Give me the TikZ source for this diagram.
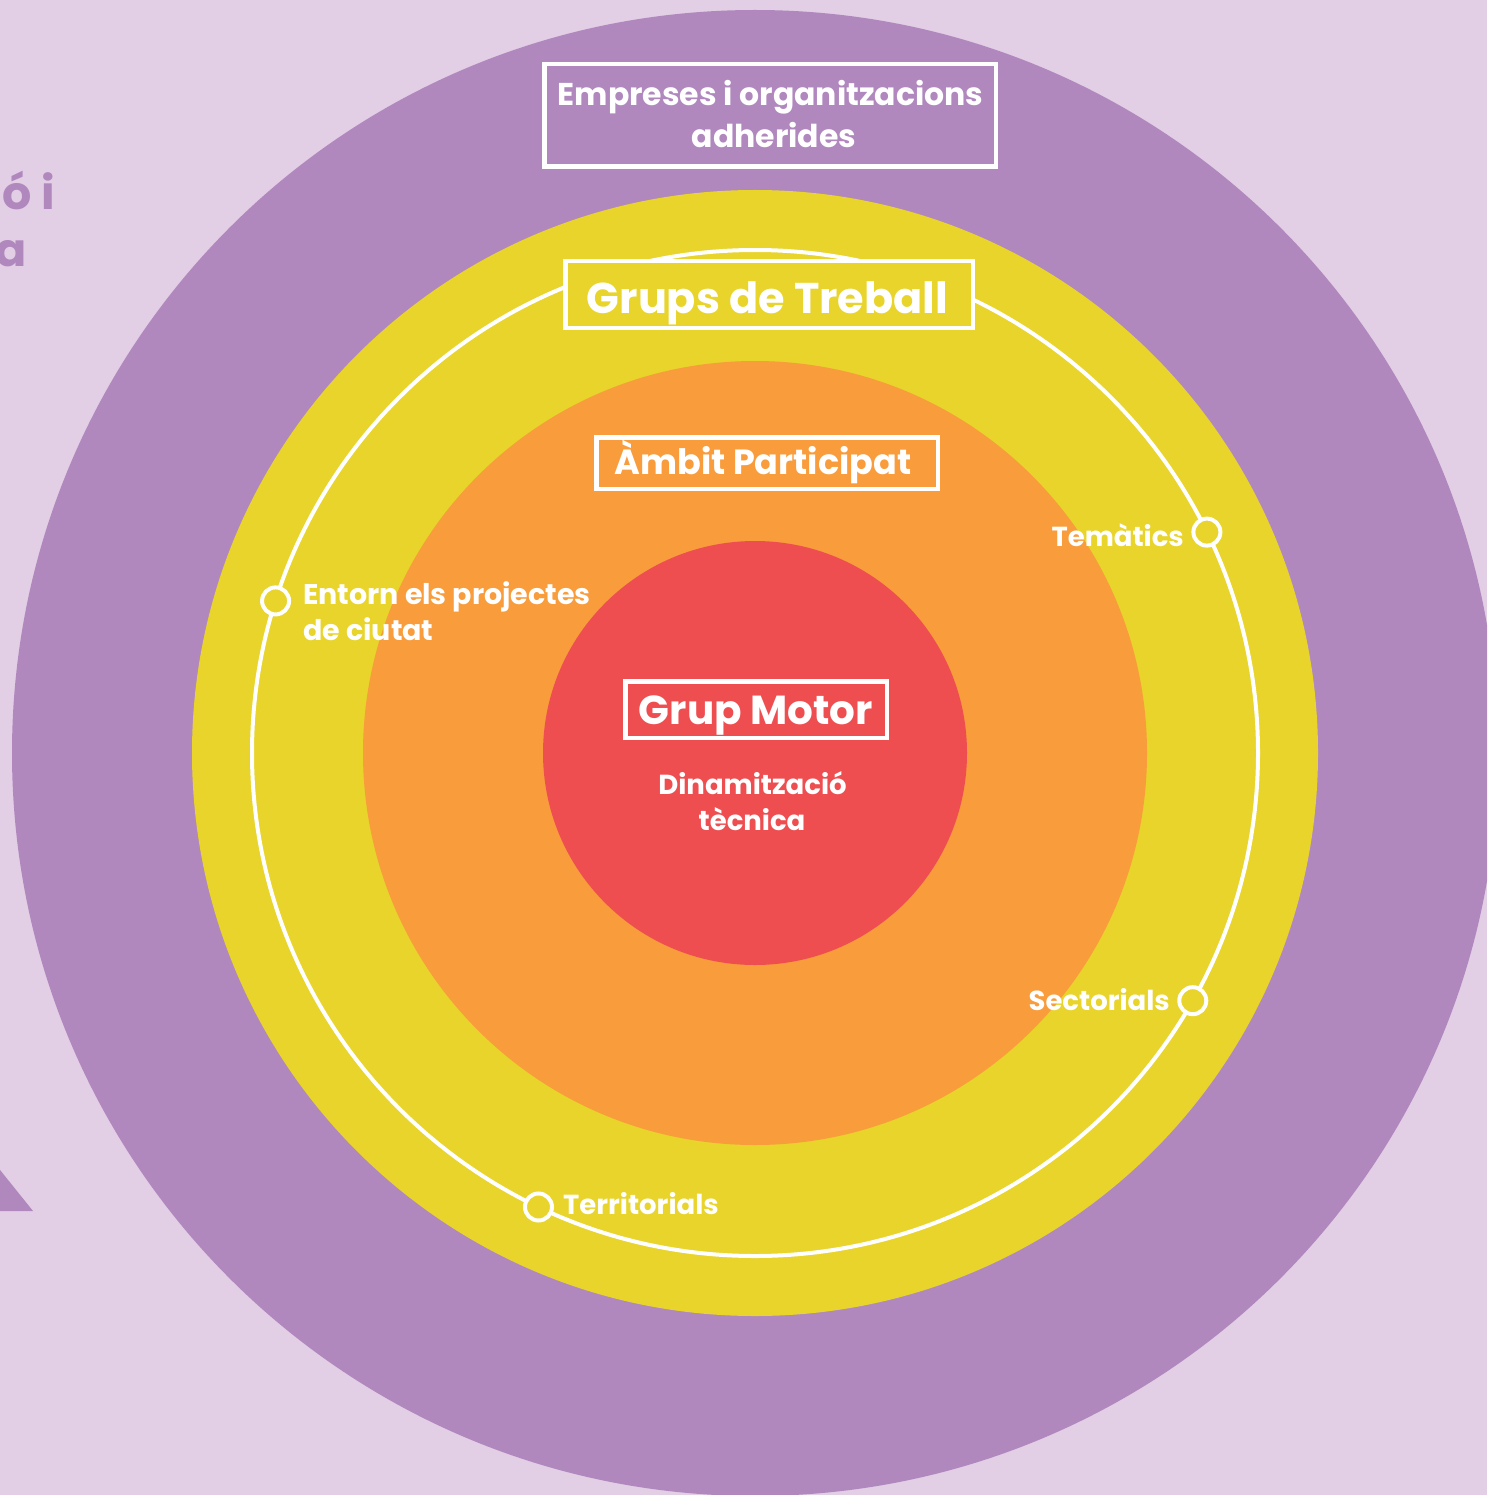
\documentclass[tikz,border=0pt]{standalone}
\usepackage{fontspec}
\usetikzlibrary{calc}
\setmainfont{Poppins}
\definecolor{bgc}{HTML}{E2CEE5}
\definecolor{purp}{HTML}{B088BE}
\definecolor{yel}{HTML}{E8D42B}
\definecolor{ora}{HTML}{F89C3C}
\definecolor{redc}{HTML}{EF4E51}
\tikzset{
  lbox/.style={draw=white, line width=4.5pt, inner sep=0pt},
  wtxt/.style={text=white, inner sep=0pt, font=\fontsize{27.5}{30}\selectfont\bfseries},
  btxt/.style={text=white, inner sep=0pt, anchor=base},
  marker/.style={circle, draw=white, fill=yel, line width=4pt, minimum size=27pt, inner sep=0pt},
}
\begin{document}
\begin{tikzpicture}[x=1pt,y=-1pt]
\useasboundingbox (0,0) rectangle (1487,1495);
\clip (0,0) rectangle (1487,1495);
\fill[bgc] (0,0) rectangle (1487,1495);
% cut-off text and triangle at left
\node[anchor=base east, text=purp, inner sep=0pt, font=\fontsize{46}{52}\selectfont\bfseries] (cutA) at (55,210) {ió i};
\node[anchor=base east, text=purp, inner sep=0pt, font=\fontsize{46}{52}\selectfont\bfseries] (cutB) at (27,267) {a};
\fill[purp] (-20,1145) -- (33,1211) -- (-20,1211) -- cycle;
% circles
\coordinate (c) at (755,753);
\fill[purp] (c) circle[radius=743];
\fill[yel] (c) circle[radius=563];
\draw[white, line width=4pt] (c) circle[radius=503];
\fill[ora] (c) circle[radius=392];
\fill[redc] (c) circle[radius=212];
% boxes
\node[lbox, fill=purp, minimum width=451.5pt, minimum height=102.5pt] (emp) at (770,115.5) {};
\node[lbox, fill=yel, minimum width=407.5pt, minimum height=66.5pt] (grups) at (769,294.5) {};
\node[lbox, fill=ora, minimum width=341.5pt, minimum height=51.5pt] (ambit) at (767,463) {};
\node[lbox, fill=redc, minimum width=261.5pt, minimum height=56.5pt] (motor) at (756,709.5) {};
% box texts
\node[btxt, font=\fontsize{31.5}{40}\selectfont\bfseries] (empA) at (770.5,106) {Empreses i organitzacions};
\node[btxt, font=\fontsize{31.5}{40}\selectfont\bfseries] (empB) at (774,148) {adherides};
\node[btxt, font=\fontsize{43}{50}\selectfont\bfseries] (grupsT) at (767.5,313) {Grups de Treball};
\node[btxt, font=\fontsize{35}{42}\selectfont\bfseries] (ambitT) at (763,474) {Àmbit Participat};
\node[btxt, font=\fontsize{40.5}{48}\selectfont\bfseries] (motorT) at (756,724) {Grup Motor};
\node[btxt, font=\fontsize{27.5}{34}\selectfont\bfseries] (dinaA) at (752.5,794.5) {Dinamització};
\node[btxt, font=\fontsize{27.5}{34}\selectfont\bfseries] (dinaB) at (752,830.5) {tècnica};
% markers
\node[marker] (m1) at ($(c)+(-26.05:503)$) {};
\node[marker] (m2) at ($(c)+(-162.4:503)$) {};
\node[marker] (m3) at ($(c)+(29.5:503)$) {};
\node[marker] (m4) at ($(c)+(115.5:503)$) {};
% labels
\node[wtxt, anchor=base east] (tem) at (1184,546.5) {Temàtics};
\node[wtxt, anchor=base west, font=\fontsize{28.5}{34}\selectfont\bfseries] (entA) at (303,604) {Entorn els projectes};
\node[wtxt, anchor=base west, font=\fontsize{28.5}{34}\selectfont\bfseries] (entB) at (303,640.5) {de ciutat};
\node[wtxt, anchor=base east] (sec) at (1170,1010.5) {Sectorials};
\node[wtxt, anchor=base west] (ter) at (563,1214.5) {Territorials};
\end{tikzpicture}
\end{document}
